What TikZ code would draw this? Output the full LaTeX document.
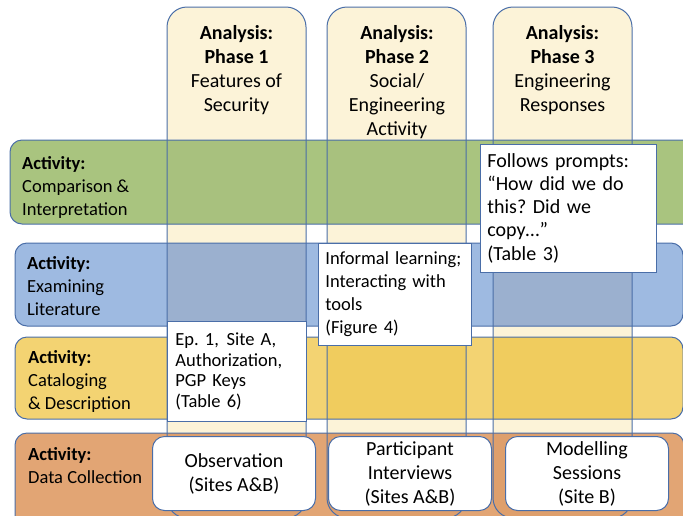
\documentclass[tikz,border=0pt]{standalone}
\usepackage{fontspec}
\setmainfont{Carlito}
\usetikzlibrary{positioning}
\frenchspacing

\definecolor{rim}{HTML}{4A6EA8}
\definecolor{cream}{HTML}{FCF3D8}
\definecolor{bandgreen}{HTML}{A9C47F}
\definecolor{overgreen}{HTML}{A8C17E}
\definecolor{bandblue}{HTML}{9EBAE1}
\definecolor{overblue}{HTML}{9BB0CF}
\definecolor{bandyellow}{HTML}{F3D372}
\definecolor{overyellow}{HTML}{F0CC5E}
\definecolor{bandorange}{HTML}{E2A574}
\definecolor{overorange}{HTML}{DE9F6C}

\tikzset{
  big/.style={font=\fontsize{20}{24}\selectfont},
  outline/.style={draw=rim, line width=1pt},
  phasetitle/.style={big, anchor=north, align=center, inner sep=0pt},
  bandlabel/.style={anchor=north west, align=left, inner sep=0pt},
  note/.style={draw=rim, line width=0.8pt, fill=white, anchor=north west, align=left, inner xsep=7pt, inner ysep=0pt},
  source/.style={big, draw=rim, line width=1pt, fill=white, rounded corners=12pt, anchor=north west, align=center, inner sep=0pt, minimum width=163pt, minimum height=74pt}
}

\begin{document}
\begin{tikzpicture}[x=1pt, y=-1pt, font=\fontsize{18.5}{23}\selectfont]
  \useasboundingbox (0,0) rectangle (683,515);
  \clip (0,0) rectangle (683,515);

  % analysis phases
  \foreach \x in {167,327,493}
    \fill[cream, rounded corners=20pt] (\x,7) rectangle ++(139,511);

  % activity bands, darker where a phase runs through
  \foreach \xa/\ya/\xb/\yb/\band in {10/140/700/224/green, 15/243/683/326/blue, 15/337/683/419/yellow, 15/433/684/540/orange}{
    \fill[band\band, rounded corners=12pt] (\xa,\ya) rectangle (\xb,\yb);
    \begin{scope}
      \clip[rounded corners=12pt] (\xa,\ya) rectangle (\xb,\yb);
      \foreach \x in {167,327,493}
        \fill[over\band, rounded corners=20pt] (\x,7) rectangle ++(139,511);
    \end{scope}
    \draw[outline, rounded corners=12pt] (\xa,\ya) rectangle (\xb,\yb);
  }

  \foreach \x in {167,327,493}
    \draw[outline, rounded corners=20pt] (\x,7) rectangle ++(139,511);

  % phase titles
  \node[phasetitle] (phase1) at (236.5,25) {\textbf{Analysis:}\\\textbf{Phase 1}\\Features of\\Security};
  \node[phasetitle] (phase2) at (397,25) {\textbf{Analysis:}\\\textbf{Phase 2}\\Social/\\Engineering\\Activity};
  \node[phasetitle] (phase3) at (562.5,25) {\textbf{Analysis:}\\\textbf{Phase 3}\\Engineering\\Responses};

  % band labels
  \node[bandlabel] (compare) at (22,156) {\textbf{Activity:}\\Comparison \&\\Interpretation};
  \node[bandlabel] (literature) at (27,256) {\textbf{Activity:}\\Examining\\Literature};
  \node[bandlabel] (catalog) at (28,350) {\textbf{Activity:}\\Cataloging\\\& Description};
  \node[bandlabel] (collect) at (28,447) {\textbf{Activity:}\\Data Collection};

  % notes
  \node[note, big, text width=162pt, minimum height=128pt] (prompts) at (480,144) {\baselineskip=23pt Follows prompts:\\“How did we do\\this? Did we\\copy…”\\(Table 3)};
  \node[note, text width=139pt, minimum height=102pt] (informal) at (318,243) {Informal learning;\\Interacting with\\tools\\(Figure 4)};
  \node[note, font=\fontsize{18.5}{20.5}\selectfont, text width=123pt, inner xsep=8pt, minimum height=100pt] (episode) at (167,321) {Ep. 1,\hspace{1.5pt} Site A,\\Authorization,\\PGP Keys\\(Table 6)};

  % data collection
  \node[source] (observe) at (152,436) {Observation\\(Sites A\&B)};
  \node[source, right=12pt of observe] (interview) {Participant\\Interviews\\(Sites A\&B)};
  \node[source, right=13pt of interview] (modelling) {Modelling\\Sessions\\(Site B)};

\end{tikzpicture}
\end{document}
